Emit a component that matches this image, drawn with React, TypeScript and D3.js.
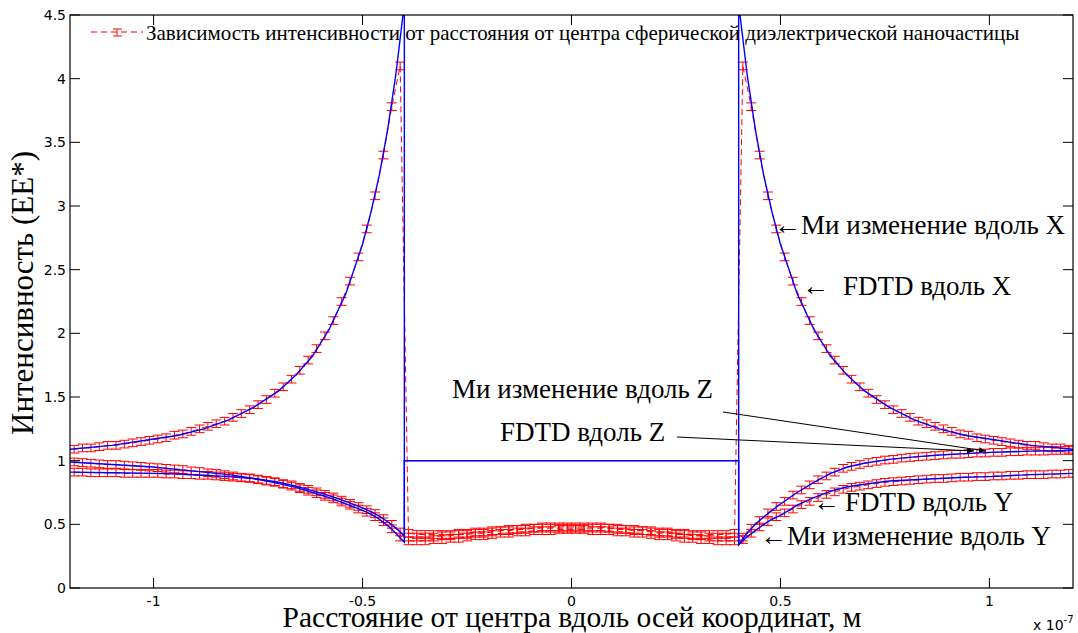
import * as d3 from "d3";

// axis ticks
const xTickValues = [-1, -0.5, 0, 0.5, 1];
const yTickValues = [0, 0.5, 1, 1.5, 2, 2.5, 3, 3.5, 4, 4.5];

// Mie theory (blue), positions in units of 1e-7 m
const miePos = [
  -1.2, -1.1, -1.0, -0.94, -0.88, -0.82, -0.76, -0.7, -0.66, -0.62, -0.58, -0.54, -0.5, -0.48, -0.46, -0.44, -0.42, -0.4,
  -0.4, 0.4,
  0.4, 0.42, 0.44, 0.46, 0.48, 0.5, 0.54, 0.58, 0.62, 0.66, 0.7, 0.76, 0.82, 0.88, 0.94, 1.0, 1.1, 1.2,
];
const mieAlongX = [
  1.09, 1.12, 1.17, 1.2, 1.25, 1.32, 1.42, 1.55, 1.67, 1.82, 2.03, 2.31, 2.7, 2.95, 3.24, 3.6, 4.04, 4.59,
  1, 1,
  4.59, 4.04, 3.6, 3.24, 2.95, 2.7, 2.31, 2.03, 1.82, 1.67, 1.55, 1.42, 1.32, 1.25, 1.2, 1.17, 1.12, 1.09,
];
const mieAlongY = [
  0.91, 0.905, 0.9, 0.895, 0.885, 0.875, 0.86, 0.83, 0.8, 0.765, 0.725, 0.68, 0.63, 0.6, 0.565, 0.52, 0.47, 0.41,
  1, 1,
  0.34, 0.4, 0.45, 0.5, 0.54, 0.57, 0.65, 0.71, 0.76, 0.795, 0.815, 0.84, 0.85, 0.86, 0.87, 0.875, 0.89, 0.9,
];
const mieAlongZ = [
  0.99, 0.97, 0.95, 0.93, 0.91, 0.89, 0.86, 0.82, 0.79, 0.75, 0.71, 0.66, 0.61, 0.58, 0.54, 0.49, 0.43, 0.36,
  1, 1,
  0.34, 0.43, 0.5, 0.56, 0.61, 0.66, 0.75, 0.83, 0.9, 0.95, 0.98, 1.01, 1.03, 1.045, 1.055, 1.065, 1.075, 1.08,
];

// FDTD (red, with error bars), grid -1.19 ... 1.19 step 0.02
const fdtdPos = d3.range(120).map((i) => -1.19 + i * 0.02);
const fdtdAlongX = [
  1.09, 1.1, 1.1, 1.11, 1.12, 1.12, 1.13, 1.14, 1.15, 1.16, 1.17, 1.18, 1.2, 1.21, 1.23, 1.25, 1.27, 1.29, 1.31, 1.34,
  1.37, 1.4, 1.44, 1.48, 1.53, 1.58, 1.64, 1.71, 1.79, 1.88, 1.98, 2.1, 2.25, 2.41, 2.6, 2.82, 3.08, 3.4, 3.78, 4.1,
  0.4, 0.4, 0.4, 0.4, 0.41, 0.41, 0.42, 0.42, 0.43, 0.43, 0.44, 0.45, 0.45, 0.46, 0.46, 0.47, 0.47, 0.47, 0.47, 0.47,
  0.47, 0.47, 0.47, 0.47, 0.47, 0.46, 0.46, 0.45, 0.45, 0.44, 0.43, 0.43, 0.42, 0.42, 0.41, 0.41, 0.4, 0.4, 0.4, 0.4,
  4.1, 3.78, 3.4, 3.08, 2.82, 2.6, 2.41, 2.25, 2.1, 1.98, 1.88, 1.79, 1.71, 1.64, 1.58, 1.53, 1.48, 1.44, 1.4, 1.37,
  1.34, 1.31, 1.29, 1.27, 1.25, 1.23, 1.21, 1.2, 1.18, 1.17, 1.16, 1.15, 1.14, 1.13, 1.12, 1.12, 1.11, 1.1, 1.1, 1.09,
];
const fdtdAlongY = [
  0.91, 0.91, 0.905, 0.905, 0.905, 0.905, 0.9, 0.9, 0.9, 0.9, 0.9, 0.895, 0.895, 0.89, 0.89, 0.885, 0.885, 0.88, 0.875, 0.87,
  0.865, 0.86, 0.855, 0.845, 0.835, 0.82, 0.81, 0.79, 0.775, 0.755, 0.735, 0.715, 0.69, 0.665, 0.64, 0.615, 0.585, 0.545, 0.5, 0.44,
  0.37, 0.37, 0.37, 0.38, 0.38, 0.39, 0.39, 0.4, 0.41, 0.41, 0.42, 0.43, 0.43, 0.44, 0.44, 0.45, 0.45, 0.45, 0.46, 0.46,
  0.46, 0.46, 0.45, 0.45, 0.45, 0.44, 0.44, 0.43, 0.43, 0.42, 0.41, 0.41, 0.4, 0.39, 0.39, 0.38, 0.38, 0.37, 0.37, 0.37,
  0.38, 0.43, 0.48, 0.52, 0.56, 0.59, 0.62, 0.655, 0.68, 0.71, 0.735, 0.755, 0.775, 0.79, 0.8, 0.81, 0.82, 0.83, 0.835, 0.84,
  0.845, 0.85, 0.855, 0.86, 0.86, 0.865, 0.87, 0.87, 0.875, 0.875, 0.88, 0.88, 0.885, 0.885, 0.89, 0.89, 0.89, 0.895, 0.895, 0.9,
];
const fdtdAlongZ = [
  0.99, 0.985, 0.98, 0.975, 0.97, 0.97, 0.965, 0.96, 0.955, 0.95, 0.945, 0.94, 0.935, 0.93, 0.92, 0.915, 0.905, 0.9, 0.89, 0.88,
  0.87, 0.865, 0.85, 0.84, 0.83, 0.815, 0.8, 0.78, 0.76, 0.74, 0.72, 0.7, 0.675, 0.65, 0.62, 0.595, 0.56, 0.52, 0.465, 0.4,
  0.43, 0.42, 0.42, 0.42, 0.42, 0.42, 0.43, 0.43, 0.44, 0.44, 0.45, 0.45, 0.46, 0.46, 0.47, 0.47, 0.48, 0.48, 0.48, 0.48,
  0.48, 0.48, 0.48, 0.48, 0.47, 0.47, 0.46, 0.46, 0.45, 0.45, 0.44, 0.44, 0.43, 0.43, 0.42, 0.42, 0.42, 0.42, 0.42, 0.43,
  0.4, 0.47, 0.53, 0.59, 0.64, 0.68, 0.73, 0.77, 0.81, 0.85, 0.88, 0.91, 0.94, 0.955, 0.97, 0.985, 0.995, 1.005, 1.01, 1.02,
  1.025, 1.03, 1.035, 1.04, 1.045, 1.05, 1.05, 1.055, 1.06, 1.06, 1.065, 1.065, 1.07, 1.07, 1.075, 1.075, 1.075, 1.08, 1.08, 1.08,
];
const fdtdError = 0.03;

const legendLabel =
  "Зависимость интенсивности от расстояния от центра сферической диэлектрической наночастицы";

const W = 1078;
const H = 633;
const L = 70, R = 1073, T = 15, B = 588;
const serif = "'Liberation Serif', 'Times New Roman', serif";
const sans = "'DejaVu Sans', sans-serif";

export default function App() {
  const x = d3.scaleLinear([-1.2, 1.2], [L, R]);
  const y = d3.scaleLinear([0, 4.5], [B, T]);

  const line = d3
    .line<[number, number]>()
    .x((d) => x(d[0]))
    .y((d) => y(d[1]));

  const mieSeries = [mieAlongX, mieAlongY, mieAlongZ];
  const fdtdSeries = [fdtdAlongX, fdtdAlongY, fdtdAlongZ];
  const cap = 5;

  return (
    <svg
      width={W}
      height={H}
      style={{ position: "absolute", left: 0, top: 0, background: "#fff" }}
    >
      <defs>
        <clipPath id="plot">
          <rect x={L} y={T} width={R - L} height={B - T} />
        </clipPath>
        <marker id="ah" viewBox="0 0 10 10" refX="10" refY="5" markerWidth="7" markerHeight="7" orient="auto">
          <path d="M0,1 L10,5 L0,9 z" fill="#000" />
        </marker>
      </defs>

      <g clipPath="url(#plot)">
        {fdtdSeries.map((vals, si) => (
          <g key={"f" + si} stroke="#ff0000" fill="none" strokeWidth={1}>
            {vals.map((v, i) => {
              const px = x(fdtdPos[i]);
              const y0 = y(v - fdtdError);
              const y1 = y(v + fdtdError);
              return (
                <path
                  key={i}
                  d={`M${px},${y0}V${y1}M${px - cap},${y0}H${px + cap}M${px - cap},${y1}H${px + cap}`}
                />
              );
            })}
            <path
              d={line(vals.map((v, i) => [fdtdPos[i], v] as [number, number])) ?? ""}
              strokeDasharray="6,4"
            />
          </g>
        ))}
        {mieSeries.map((vals, si) => (
          <path
            key={"m" + si}
            d={line(vals.map((v, i) => [miePos[i], v] as [number, number])) ?? ""}
            fill="none"
            stroke="#0000ff"
            strokeWidth={1.4}
          />
        ))}
      </g>

      {/* axes box */}
      <rect x={L} y={T} width={R - L} height={B - T} fill="none" stroke="#000" strokeWidth={1.2} />
      {xTickValues.map((v) => (
        <g key={"xt" + v}>
          <line x1={x(v)} x2={x(v)} y1={B} y2={B - 10} stroke="#000" />
          <line x1={x(v)} x2={x(v)} y1={T} y2={T + 10} stroke="#000" />
          <text x={x(v)} y={606} textAnchor="middle" fontFamily={sans} fontSize={14} fill="#000">
            {String(v)}
          </text>
        </g>
      ))}
      {yTickValues.map((v) => (
        <g key={"yt" + v}>
          <line x1={L} x2={L + 10} y1={y(v)} y2={y(v)} stroke="#000" />
          <line x1={R} x2={R - 10} y1={y(v)} y2={y(v)} stroke="#000" />
          <text x={66} y={y(v) + 5} textAnchor="end" fontFamily={sans} fontSize={14} fill="#000">
            {String(v)}
          </text>
        </g>
      ))}
      <text x={1033} y={630} fontFamily={sans} fontSize={14} fill="#000">
        x 10
        <tspan dy={-7} fontSize={10}>-7</tspan>
      </text>

      {/* axis titles */}
      <text x={572} y={627} textAnchor="middle" fontFamily={serif} fontSize={29.5} fill="#000">
        Расстояние от центра вдоль осей координат, м
      </text>
      <text
        transform={`translate(33,${293}) rotate(-90)`}
        textAnchor="middle"
        fontFamily={serif}
        fontSize={31}
        fill="#000"
      >
        Интенсивность (EE*)
      </text>

      {/* legend */}
      <g stroke="#ff0000" fill="none" strokeWidth={1}>
        <line x1={91} x2={143} y1={32} y2={32} strokeDasharray="6,4" />
        <path d="M117,29V36M113,29H122M113,36H122" />
      </g>
      <text x={146} y={40} fontFamily={serif} fontSize={21} fill="#000">
        {legendLabel}
      </text>

      {/* annotations */}
      <g fontFamily={serif} fontSize={27} fill="#000">
        <text x={774} y={234}>←Ми изменение вдоль X</text>
        <text x={802} y={295}>←</text>
        <text x={843} y={295}>FDTD вдоль X</text>
        <text x={452} y={398}>Ми изменение вдоль Z</text>
        <text x={500} y={441}>FDTD вдоль Z</text>
        <text x={813} y={511}>←</text>
        <text x={845} y={511}>FDTD вдоль Y</text>
        <text x={760} y={545}>←Ми изменение вдоль Y</text>
      </g>
      <line x1={723} y1={412} x2={986} y2={451} stroke="#000" strokeWidth={1} markerEnd="url(#ah)" />
      <line x1={677} y1={437} x2={974} y2={451} stroke="#000" strokeWidth={1} markerEnd="url(#ah)" />
    </svg>
  );
}
